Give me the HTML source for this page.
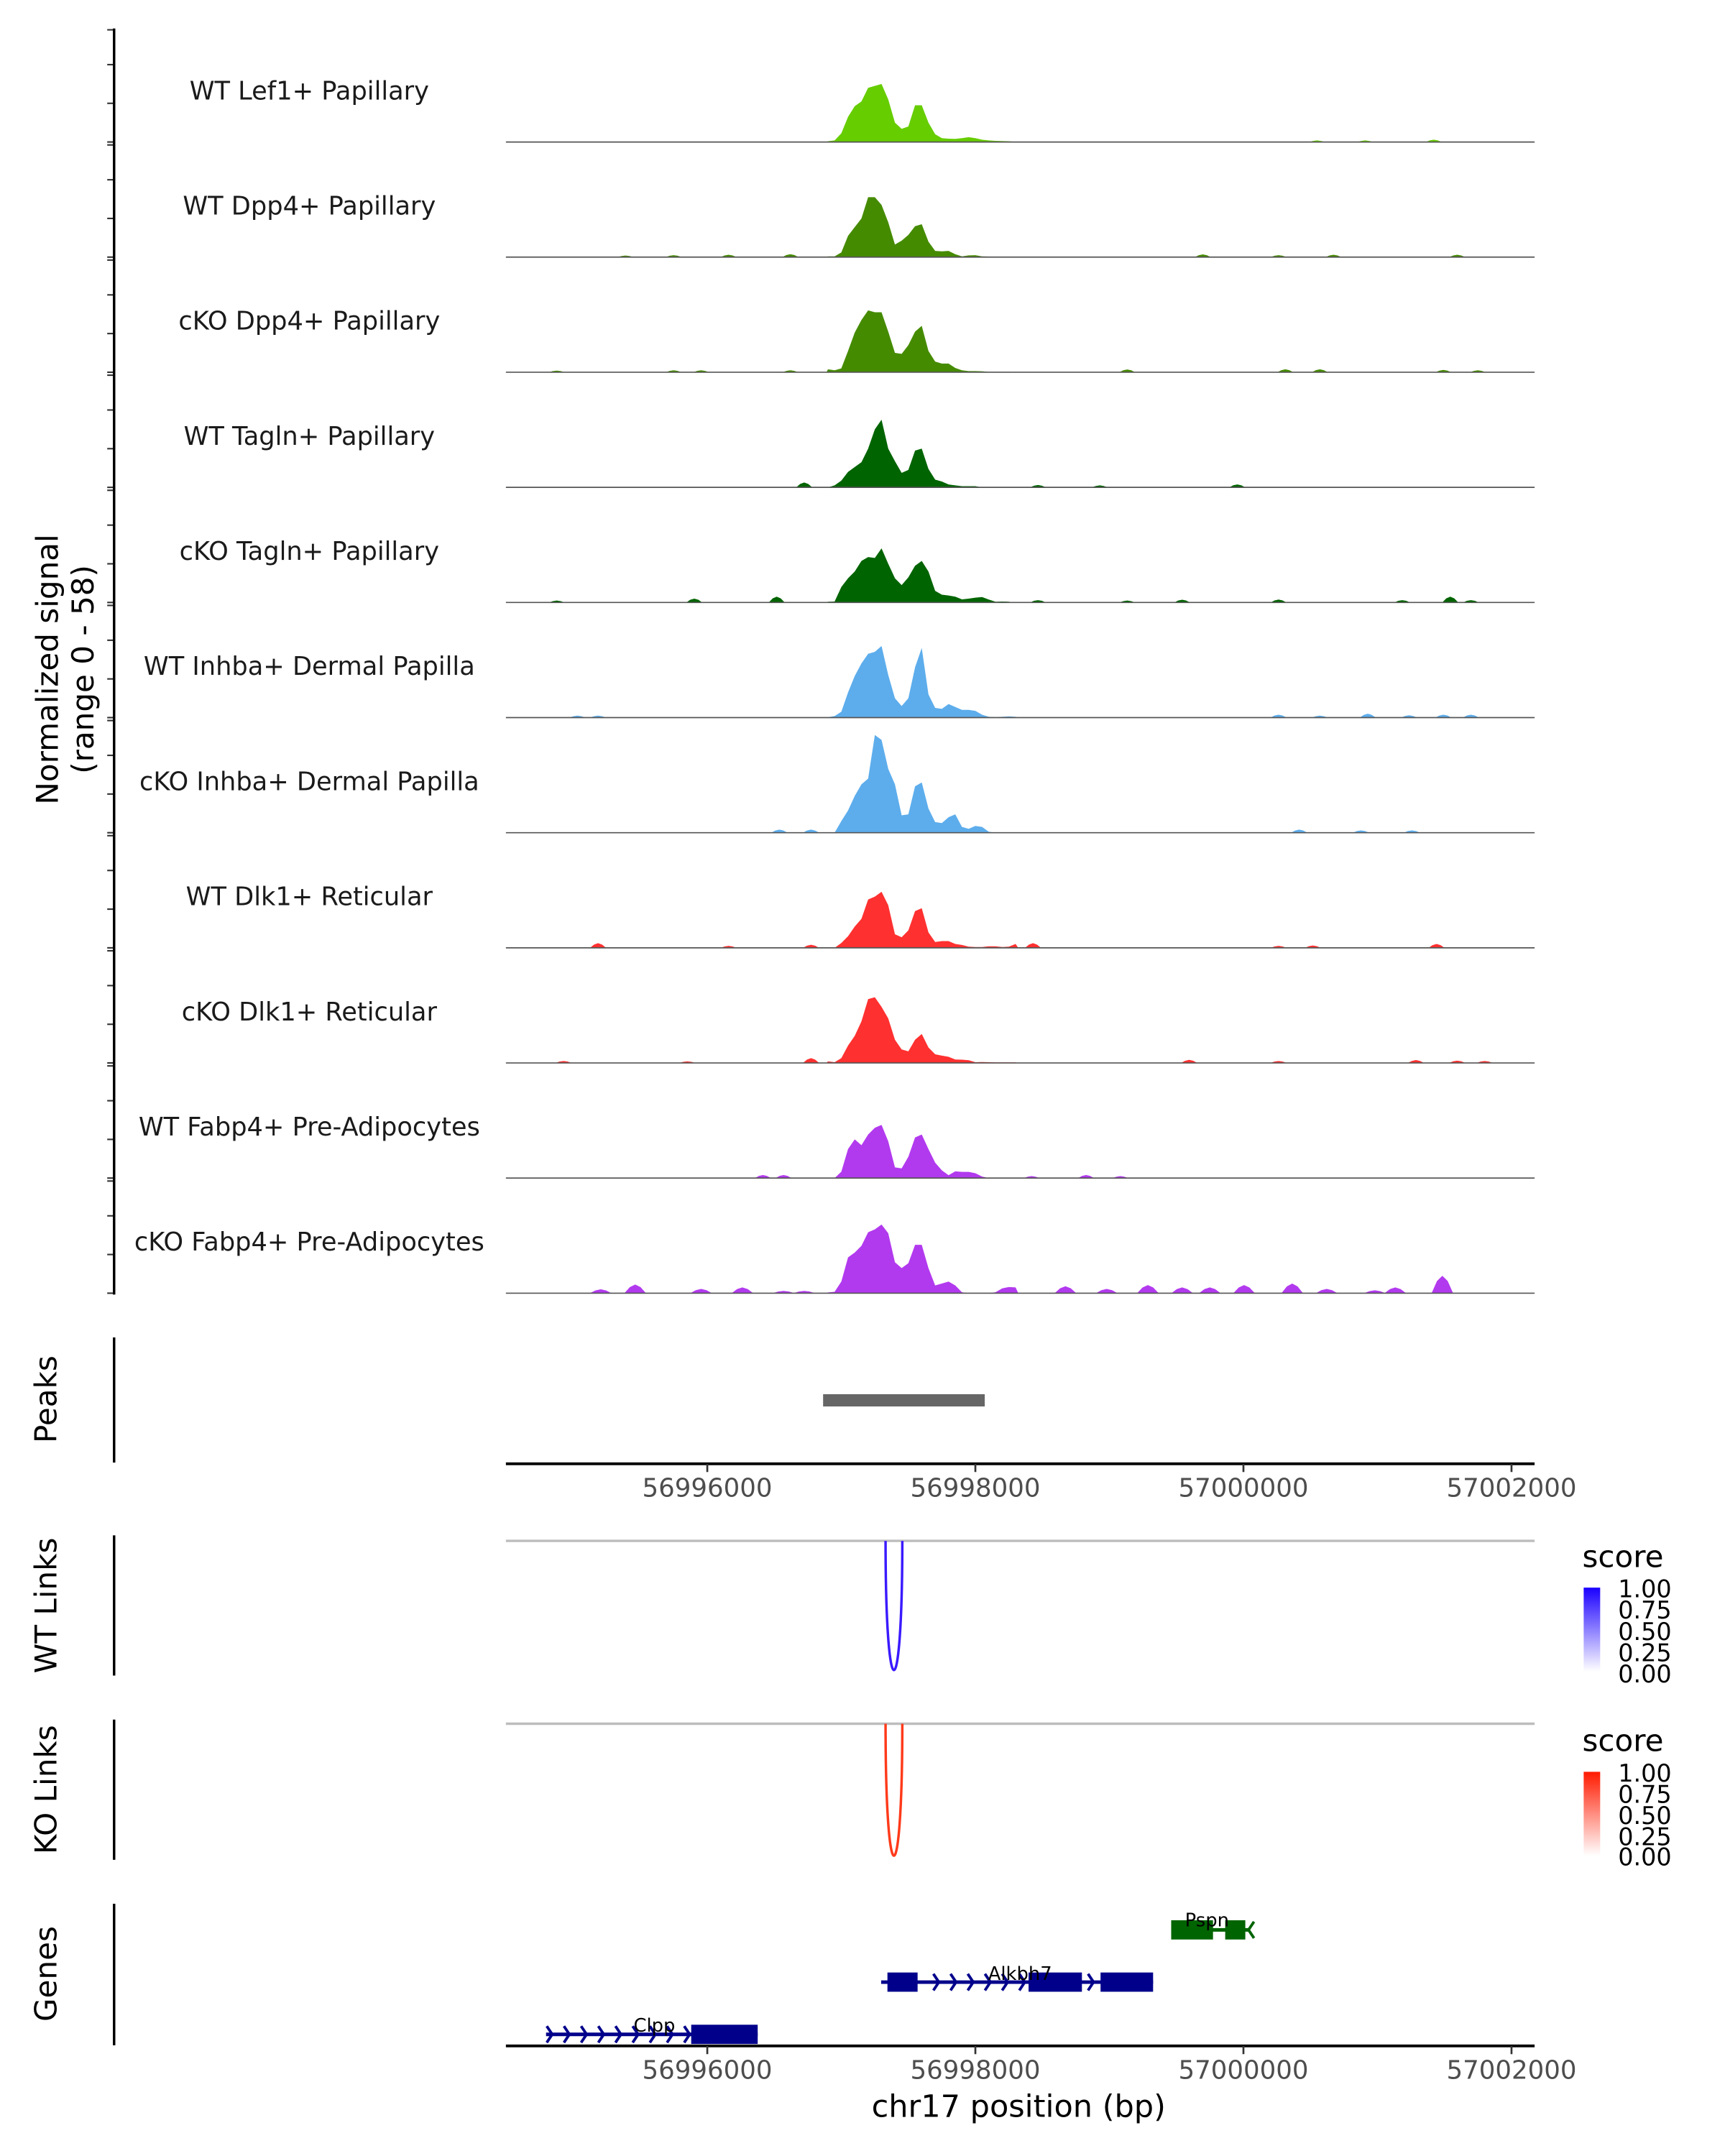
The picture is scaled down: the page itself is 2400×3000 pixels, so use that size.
<!DOCTYPE html>
<html><head><meta charset="utf-8"><title>Coverage plot chr17</title>
<style>html,body{margin:0;padding:0;background:#fff}svg{display:block}text{font-family:"DejaVu Sans","Liberation Sans",sans-serif}</style>
</head><body>
<svg id="chart" xmlns="http://www.w3.org/2000/svg" width="2400" height="3000" viewBox="0 0 1254.8 1568.5">
<rect x="0" y="0" width="1254.8" height="1568.5" fill="#fff"/>
<g id="tracks"></g>
<g id="axes"></g>
<g id="lower"></g>
<text x="0" y="0" transform="translate(42,487) rotate(-90)" text-anchor="middle" font-size="22" fill="#000">Normalized signal</text>
<text x="0" y="0" transform="translate(68,487) rotate(-90)" text-anchor="middle" font-size="22" fill="#000">(range 0 - 58)</text>
<text x="0" y="0" transform="translate(41,1018) rotate(-90)" text-anchor="middle" font-size="22" fill="#000">Peaks</text>
<text x="0" y="0" transform="translate(41,1168) rotate(-90)" text-anchor="middle" font-size="22" fill="#000">WT Links</text>
<text x="0" y="0" transform="translate(41,1302) rotate(-90)" text-anchor="middle" font-size="22" fill="#000">KO Links</text>
<text x="0" y="0" transform="translate(41,1436) rotate(-90)" text-anchor="middle" font-size="22" fill="#000">Genes</text>
<text x="741" y="1540" text-anchor="middle" font-size="22.5" fill="#000">chr17 position (bp)</text>
<defs>
<linearGradient id="gBlue" x1="0" y1="1" x2="0" y2="0"><stop offset="0" stop-color="#ffffff"/><stop offset="1" stop-color="#1a00ff"/></linearGradient>
<linearGradient id="gRed" x1="0" y1="1" x2="0" y2="0"><stop offset="0" stop-color="#ffffff"/><stop offset="1" stop-color="#ff1a00"/></linearGradient>
</defs>
<g>
<text x="1151" y="1140" font-size="22" fill="#000">score</text>
<rect x="1152" y="1155" width="12" height="61" fill="url(#gBlue)"/>
<g font-size="17.5" fill="#000">
<text x="1177" y="1162">1.00</text><text x="1177" y="1177.5">0.75</text><text x="1177" y="1193">0.50</text><text x="1177" y="1208.5">0.25</text><text x="1177" y="1224">0.00</text></g>
</g>
<g>
<text x="1151" y="1274" font-size="22" fill="#000">score</text>
<rect x="1152" y="1289" width="12" height="61" fill="url(#gRed)"/>
<g font-size="17.5" fill="#000">
<text x="1177" y="1296">1.00</text><text x="1177" y="1311.5">0.75</text><text x="1177" y="1327">0.50</text><text x="1177" y="1342.5">0.25</text><text x="1177" y="1357">0.00</text></g>
</g>
</svg>
<script>
// ---- data ----
const trackNames = ["WT Lef1+ Papillary","WT Dpp4+ Papillary","cKO Dpp4+ Papillary","WT Tagln+ Papillary","cKO Tagln+ Papillary","WT Inhba+ Dermal Papilla","cKO Inhba+ Dermal Papilla","WT Dlk1+ Reticular","cKO Dlk1+ Reticular","WT Fabp4+ Pre-Adipocytes","cKO Fabp4+ Pre-Adipocytes"];
const trackColors = ["#66CD00","#458B00","#458B00","#006400","#006400","#5DADEC","#5DADEC","#FF3030","#FF3030","#B23AEE","#B23AEE"];
const mainPos = [56996900,56996950,56997000,56997050,56997100,56997150,56997200,56997250,56997300,56997350,56997400,56997450,56997500,56997550,56997600,56997650,56997700,56997750,56997800,56997850,56997900,56997950,56998000,56998050,56998100,56998150,56998200,56998250,56998300];
const sigLef1WT  = [0.4,0.8,4.5,13,18.5,21,28,29,30,22,10,6.8,8,19,19,10,4,2,1.7,1.6,2,2.5,2,1.2,0.8,0.6,0.5,0.4,0];
const sigDpp4WT  = [0.4,0.4,2.4,11,15.5,20,31,31,27,18,6.5,8.5,11.5,16,17,8,3.2,3,3.2,1.5,0.4,0.9,1,0.4,0.3,0.2,0,0,0];
const sigDpp4KO  = [1.5,1,2,11,20.5,27,32,31,31,21,10,9.5,14,21,24,11,5.5,4.5,4.5,2.2,1,0.6,0.6,0.5,0.2,0.2,0.2,0.2,0];
const sigTaglnWT = [0,1,3.5,8,10.5,13,20,30,35,20,13.5,7.5,9,19,20,9.5,4,3,1.5,1,0.6,0.6,0.6,0,0,0,0,0,0];
const sigTaglnKO = [0.4,0.5,8,12.5,16,21.5,23.5,23,28,20,12.5,9,13,19,21.5,16,6,4,3.6,3,1.6,2,2.5,2.8,1.5,0.4,0.5,0.4,0];
const sigInhbaWT = [0.2,0.8,3,13,21.5,28,33,34,37,22,10,6,10,26,36,12,5,4.5,7,5.5,4,4,3.5,1.5,0.4,0.2,0.4,0.6,0.4];
const sigInhbaKO = [0,0,6,11.5,19,25,28,50.5,48,33,25,9,9.5,24,26,12.5,5.5,5,8,9.5,3,2,3.5,3,0.5,0,0,0,0];
const sigDlk1WT  = [0,0,2.5,6,11,15,25,26.5,29,22,7,5.5,9,19,20.5,8,3,3.5,3.5,2,1.5,0.6,0.4,0.4,0.8,0.8,0.4,0.6,2];
const sigDlk1KO  = [0.8,0.4,2.5,9,14,21.5,33,34,29,23,12,7,6,12,15,8,4.5,3.8,3.2,1.8,1.7,1.4,0.4,0.5,0.4,0.3,0.3,0.3,0.3];
const sigFabp4WT = [0,0,3.3,15,20,17,22.5,26,27.5,19,5.5,5,11,21,22.5,15,8,4,1.5,3.5,3.2,3.2,2.5,0.8,0,0,0,0,0];
const sigFabp4KO = [0.4,0.7,6,18.5,21,24.5,31.5,33,35.5,31,16,13,15.5,25,25,13,4,5,6,4,0.5,0,0,0,0,0.5,2.5,3.2,3];
const mainSignals = [sigLef1WT,sigDpp4WT,sigDpp4KO,sigTaglnWT,sigTaglnKO,sigInhbaWT,sigInhbaKO,sigDlk1WT,sigDlk1KO,sigFabp4WT,sigFabp4KO];
const bumpsLef1WT  = [[57000549,0.8],[57000908,0.8],[57001420,1.2]];
const bumpsDpp4WT  = [[56995390,0.8],[56995749,1],[56996159,1.2],[56996620,1.5],[56999697,1.4],[57000262,1],[57000672,1.2],[57001595,1.2]];
const bumpsDpp4KO  = [[56994877,0.8],[56995749,1],[56995954,1],[56996620,1],[56999133,1.4],[57000313,1.5],[57000570,1.5],[57001492,1.2],[57001749,1]];
const bumpsTaglnWT = [[56996723,2.5],[56998467,1.2],[56998928,1],[56999954,1.5]];
const bumpsTaglnKO = [[56994877,1],[56995903,2],[56996518,3],[56998467,1.2],[56999133,1],[56999543,1.4],[57000262,1.5],[57001185,1.2],[57001543,3],[57001697,1.2]];
const bumpsInhbaWT = [[56995031,1],[56995185,1],[57000262,1.5],[57000570,1],[57000928,2],[57001236,1.2],[57001492,1.5],[57001697,1.5]];
const bumpsInhbaKO = [[56996538,1.6],[56996774,1.6],[57000416,1.6],[57000877,1.2],[57001257,1.2]];
const bumpsDlk1WT  = [[56995185,2.4],[56996159,1],[56996774,1.6],[56998430,2.4],[57000262,1],[57000518,1.2],[57001441,2]];
const bumpsDlk1KO  = [[56994928,1],[56995851,0.8],[56996774,2.5],[56999595,1.6],[57000262,1],[57001287,1.5],[57001595,1.2],[57001800,1]];
const bumpsFabp4WT = [[56996415,1.6],[56996569,1.6],[56998420,1],[56998826,1.6],[56999082,1]];
const bumpsFabp4KO = [[56995205,2],[56995462,4.5],[56995954,2.2],[56996262,3],[56996569,1.2],[56996723,1.2],[56998672,3.6],[56998980,2.2],[56999287,4.2],[56999543,3],[56999749,3],[57000005,4.2],[57000364,5],[57000621,2.2],[57000980,1.5],[57001133,3],[57001484,9]];
const bumpSets = [bumpsLef1WT,bumpsDpp4WT,bumpsDpp4KO,bumpsTaglnWT,bumpsTaglnKO,bumpsInhbaWT,bumpsInhbaKO,bumpsDlk1WT,bumpsDlk1KO,bumpsFabp4WT,bumpsFabp4KO];
const yTicks = [0,20,40,58];
const xTicks = [56996000,56998000,57000000,57002000];
const peakStart = [56996864];
const peakEnd = [56998070];
const wtLinkStart = [56997330], wtLinkEnd = [56997455], wtLinkScore = [1];
const koLinkStart = [56997330], koLinkEnd = [56997455], koLinkScore = [1];
const geneNames = ["Clpp","Alkbh7","Pspn"];
const geneStrand = ["+","+","-"];
const geneStart = [56994797,56997297,56999461];
const geneEnd = [56996376,56999326,57000043];
const geneExons = [[[56995880,56996376]],[[56997344,56997569],[56998397,56998795],[56998934,56999326]],[[56999461,56999773],[56999864,57000014]]];
const geneColors = ["#00008B","#00008B","#006400"];

// ---- scales ----
const X0 = 368, X1 = 1116.3;
const xScale = bp => 514.5 + (bp - 56996000) * 0.0975;
const BASE0 = 103.3, STEP = 83.75, TRACKH = 81.6, YMAX = 58;
const yScale = (k, v) => BASE0 + STEP * k - (v / YMAX) * TRACKH;
const NS = "http://www.w3.org/2000/svg";
function mk(tag, attrs, parent){ const e = document.createElementNS(NS, tag); for (const a in attrs) e.setAttribute(a, attrs[a]); parent.appendChild(e); return e; }

const gT = document.getElementById('tracks');
const gA = document.getElementById('axes');
const gL = document.getElementById('lower');

for (let k = 0; k < trackNames.length; k++) {
  const pts = [];
  const w = (k === 10) ? 80 : 60;
  const bumps = bumpSets[k].slice().sort((a,b)=>a[0]-b[0]);
  bumps.filter(b => b[0] < mainPos[0]).forEach(b => { pts.push([b[0]-w,0],[b[0]-w/2,b[1]*0.7],[b[0],b[1]],[b[0]+w/2,b[1]*0.7],[b[0]+w,0]); });
  pts.push([mainPos[0]-10,0]);
  for (let i = 0; i < mainPos.length; i++) pts.push([mainPos[i], mainSignals[k][i]]);
  pts.push([mainPos[mainPos.length-1]+20,0]);
  bumps.filter(b => b[0] > mainPos[mainPos.length-1]).forEach(b => { pts.push([b[0]-w,0],[b[0]-w/2,b[1]*0.7],[b[0],b[1]],[b[0]+w/2,b[1]*0.7],[b[0]+w,0]); });
  const base = yScale(k, 0);
  let d = `M${xScale(pts[0][0]).toFixed(2)},${base}`;
  pts.forEach(p => { d += `L${xScale(p[0]).toFixed(2)},${yScale(k,p[1]).toFixed(2)}`; });
  d += `L${xScale(pts[pts.length-1][0]).toFixed(2)},${base}Z`;
  const area = mk('path', {d: d, fill: trackColors[k]}, gT);
  
  
  const bl = mk('line', {x1: X0, x2: X1, y1: base, y2: base, stroke: '#555', 'stroke-width': 0.9}, gT);
  
  
  const lbl = mk('text', {x: 225, y: base - 31, 'text-anchor': 'middle', 'font-size': 18.4, fill: '#1a1a1a'}, gT);
  lbl.textContent = trackNames[k];
  
  
  yTicks.forEach(t => {
    const ty = yScale(k, t);
    const tk = mk('line', {x1: 78, x2: 83, y1: ty, y2: ty, stroke: '#333', 'stroke-width': 1.1}, gA);
    
    
  });
}
const la = mk('line', {x1: 83, x2: 83, y1: yScale(0, YMAX) - 1, y2: yScale(10, 0) + 1, stroke: '#000', 'stroke-width': 1.8}, gA);



[[973,1064,'peaks-axis-line'],[1117,1219,'wt-links-axis-line'],[1251,1353,'ko-links-axis-line'],[1385,1488,'genes-axis-line']].forEach(a => {
  const l = mk('line', {x1: 83, x2: 83, y1: a[0], y2: a[1], stroke: '#000', 'stroke-width': 1.8}, gL);
  
  
});

for (let i = 0; i < peakStart.length; i++) {
  const r = mk('rect', {x: xScale(peakStart[i]), y: 1014.3, width: xScale(peakEnd[i]) - xScale(peakStart[i]), height: 8.9, fill: '#666666'}, gL);
  
  
}

function xAxis(y, name) {
  const ax = mk('line', {x1: X0, x2: X1, y1: y, y2: y, stroke: '#000', 'stroke-width': 2}, gL);
  
  
  xTicks.forEach(t => {
    const x = xScale(t);
    const tk = mk('line', {x1: x, x2: x, y1: y, y2: y + 6, stroke: '#333', 'stroke-width': 1.4}, gL);
    
    
    const tl = mk('text', {x: x, y: y + 24, 'text-anchor': 'middle', 'font-size': 18.6, fill: '#4d4d4d'}, gL);
    tl.textContent = String(t);
    
    
  });
}
xAxis(1064.9, 'peaks-x-axis');
xAxis(1488.4, 'genes-x-axis');

function links(y0, depth, starts, ends, scores, color, name) {
  const gl = mk('line', {x1: X0, x2: X1, y1: y0, y2: y0, stroke: '#bdbdbd', 'stroke-width': 1.8}, gL);
  
  
  for (let i = 0; i < starts.length; i++) {
    const a = xScale(starts[i]), b = xScale(ends[i]);
    const c = y0 + depth * scores[i] / 0.75;
    const p = mk('path', {d: `M${a},${y0} C${a},${c} ${b},${c} ${b},${y0}`, fill: 'none', stroke: color, 'stroke-width': 1.8}, gL);
    
    
  }
}
links(1121, 94, wtLinkStart, wtLinkEnd, wtLinkScore, '#3a1aff', 'wt-link');
links(1254, 96, koLinkStart, koLinkEnd, koLinkScore, '#ff3a1a', 'ko-link');

const geneY = [1480, 1442, 1404];
const labelY = [1478, 1440.5, 1401.5];
const labelX = [476, 742, 878];
for (let g = 0; g < geneNames.length; g++) {
  const y = geneY[g], col = geneColors[g];
  const x1 = xScale(geneStart[g]), x2 = xScale(geneEnd[g]);
  const gg = mk('g', {}, gL);
  
  
  mk('line', {x1: x1, x2: x2, y1: y, y2: y, stroke: col, 'stroke-width': 2.6}, gg);
  const step = 12.5;
  for (let x = x1 + 3; x < x2 - 3; x += step) {
    const inExon = geneExons[g].some(e => x > xScale(e[0]) - 2 && x < xScale(e[1]) + 2);
    if (inExon) continue;
    const d = geneStrand[g] === '+' ? `M${x-2.5},${y-6} L${x+1.5},${y} L${x-2.5},${y+6}` : `M${x+2.5},${y-6} L${x-1.5},${y} L${x+2.5},${y+6}`;
    mk('path', {d: d, fill: 'none', stroke: col, 'stroke-width': 2}, gg);
  }
  if (geneStrand[g] === '-') {
    const xe = x2 + 1;
    mk('path', {d: `M${xe+2.5},${y-6} L${xe-1.5},${y} L${xe+2.5},${y+6}`, fill: 'none', stroke: col, 'stroke-width': 2}, gg);
  }
  geneExons[g].forEach(e => {
    const r = mk('rect', {x: xScale(e[0]), y: y - 7, width: xScale(e[1]) - xScale(e[0]), height: 14, fill: col}, gg);
    
    
  });
  const t = mk('text', {x: labelX[g], y: labelY[g], 'text-anchor': 'middle', 'font-size': 13.5, fill: '#000'}, gL);
  t.textContent = geneNames[g];
  
  
}
</script>
</body></html>
